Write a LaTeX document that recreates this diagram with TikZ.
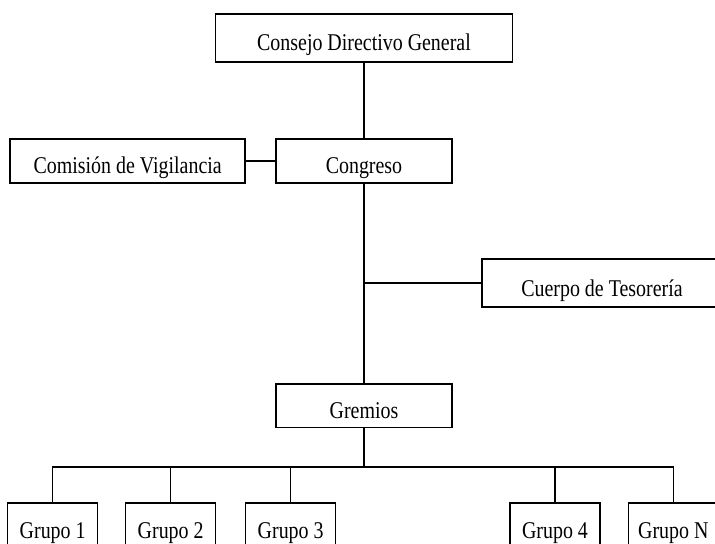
\documentclass[tikz,border=0pt]{standalone}
\usepackage{fontspec}
\setmainfont{Liberation Serif}[FakeStretch=0.83]
\usepackage{tikz}

\begin{document}
\begin{tikzpicture}[
    orgbox/.style={draw, line width=1.4pt, inner sep=0pt, text height=0.88cm, text depth=0.1cm, font=\fontsize{20.5}{24}\selectfont},
    grupobox/.style={orgbox, minimum width=2.7cm, minimum height=1.35cm},
    link/.style={line width=1.4pt}]
                    % Frame
                    \useasboundingbox (0,0) rectangle (21.45,-16.32);
                    \clip (0,0) rectangle (21.45,-16.32);

                    % Top
                    \node[orgbox, minimum width=8.91cm, minimum height=1.44cm] (consejo) at (10.92,-1.14) {Consejo Directivo General};

                    % Congreso Row
                    \node[orgbox, minimum width=7.05cm, minimum height=1.32cm] (comision) at (3.83,-4.83) {Comisión de Vigilancia};
                    \node[orgbox, minimum width=5.28cm, minimum height=1.32cm] (congreso) at (10.92,-4.83) {Congreso};

                    % Side branch
                    \node[orgbox, minimum width=7.2cm, minimum height=1.44cm] (cuerpo) at (18.06,-8.49) {Cuerpo de Tesorería};

                    % Gremios
                    \node[orgbox, minimum width=5.28cm, minimum height=1.3cm] (gremios) at (10.92,-12.17) {Gremios};

                    % Grupos Row
                    \node[grupobox] (g1) at (1.58,-15.77) {Grupo 1};
                    \node[grupobox] (g2) at (5.12,-15.77) {Grupo 2};
                    \node[grupobox] (g3) at (8.72,-15.77) {Grupo 3};
                    \node[grupobox] (g4) at (16.65,-15.77) {Grupo 4};
                    \node[grupobox] (gN) at (20.2,-15.77) {Grupo N};

                    % Lines
                    \draw[link] (consejo) -- (congreso);
                    \draw[link] (comision) -- (congreso);
                    \draw[link] (congreso) -- (gremios);
                    \draw[link] (cuerpo.west) -- (cuerpo.west -| congreso.south);

                    % Bus to Grupos
                    \coordinate (bus) at (10.92,-14.01);
                    \draw[link] (gremios) -- (bus);
                    \draw[link] (g1.north) |- (bus) -| (gN.north);
                    \draw[link] (g2.north) -- (g2.north |- bus);
                    \draw[link] (g3.north) -- (g3.north |- bus);
                    \draw[link] (g4.north) -- (g4.north |- bus);
                \end{tikzpicture}
\end{document}
